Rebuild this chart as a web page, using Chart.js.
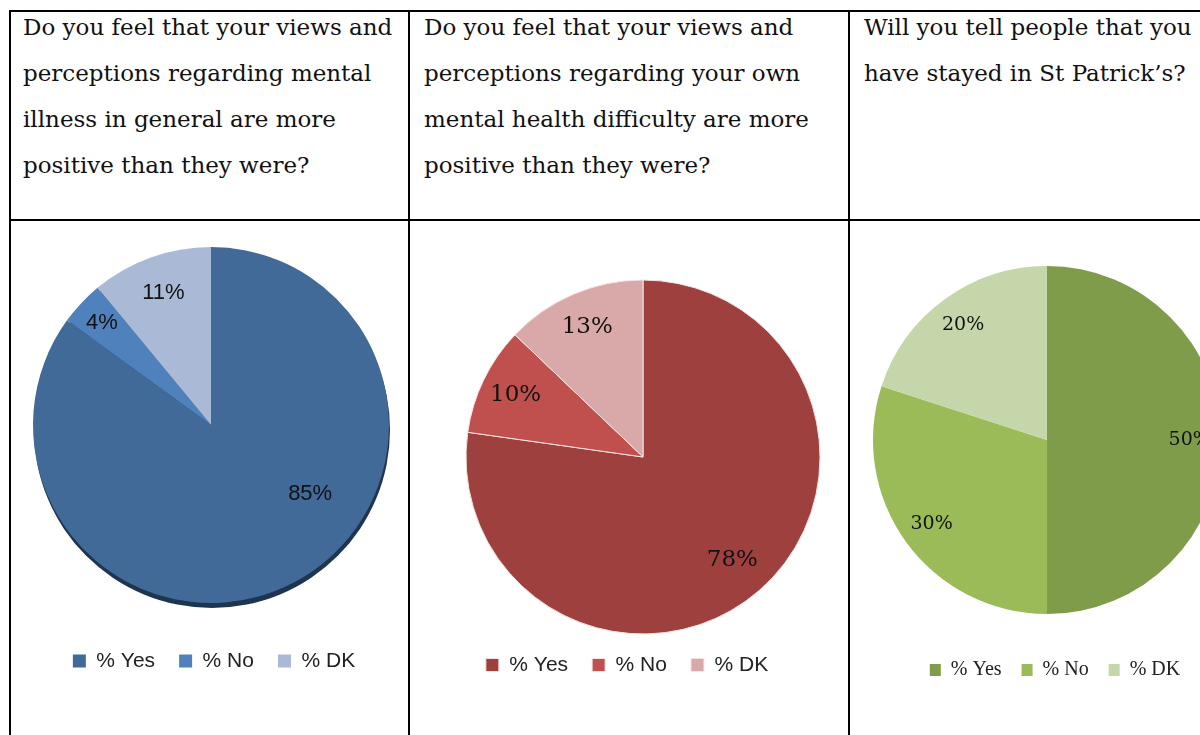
<!DOCTYPE html>
<html>
<head>
<meta charset="utf-8">
<script src="https://cdn.jsdelivr.net/npm/chart.js@4.4.0/dist/chart.umd.min.js"></script>
<style>
  html, body { margin: 0; padding: 0; width: 1200px; height: 735px; overflow: hidden; background: #fff; }
  .line { position: absolute; background: #000; }
  .head { position: absolute; top: 4px; font-family: 'DejaVu Serif', serif; font-size: 23px; line-height: 46px; color: #111; white-space: nowrap; }
  canvas { position: absolute; }
</style>
</head>
<body>
<div class="line" style="left:9px; top:10px; width:1200px; height:2px"></div>
<div class="line" style="left:9px; top:219px; width:1200px; height:2px"></div>
<div class="line" style="left:9px; top:10px; width:2px; height:740px"></div>
<div class="line" style="left:408px; top:10px; width:2px; height:740px"></div>
<div class="line" style="left:848px; top:10px; width:2px; height:740px"></div>

<div class="head" id="q1" style="left:23px"></div>
<div class="head" id="q2" style="left:424px"></div>
<div class="head" id="q3" style="left:864px"></div>

<canvas id="c1"></canvas>
<canvas id="c2"></canvas>
<canvas id="c3"></canvas>

<script>
// Survey answers (percent)
const answers = ["% Yes", "% No", "% DK"];
const viewsGeneral = [85, 4, 11];
const viewsOwn = [78, 10, 13];
const tellPeople = [50, 30, 20];

// Column headings, one entry per printed line
const q1Lines = ["Do you feel that your views and", "perceptions regarding mental", "illness in general are more", "positive than they were?"];
const q2Lines = ["Do you feel that your views and", "perceptions regarding your own", "mental health difficulty are more", "positive than they were?"];
const q3Lines = ["Will you tell people that you", "have stayed in St Patrick\u2019s?"];

document.getElementById("q1").innerHTML = q1Lines.join("<br>");
document.getElementById("q2").innerHTML = q2Lines.join("<br>");
document.getElementById("q3").innerHTML = q3Lines.join("<br>");

const CANVAS_TOP = 222;
const CANVAS_H = 513;

const charts = [
  {
    id: "c1", values: viewsGeneral, colors: ["#416A98", "#4F81BD", "#A9B9D6"],
    left: 0, width: 410, cx: 211, cy: 425, r: 178,
    legendX: 214, legendY: 661, legendFont: "Liberation Sans", legendSize: 21, box: [13, 13], pad: 24,
    labelFont: "Liberation Sans", labelSize: 22, labelDist: [0.68, 0.84, 0.79], labelShift: [-28, 0, 0],
    shadow: "#1E3550", border: 0
  },
  {
    id: "c2", values: viewsOwn, colors: ["#9E403E", "#C0504D", "#D8A9A8"],
    left: 411, width: 438, cx: 643, cy: 457, r: 177,
    legendX: 627, legendY: 665, legendFont: "Liberation Sans", legendSize: 21, box: [13, 13], pad: 24,
    labelFont: "DejaVu Serif", labelSize: 23, labelDist: [0.77, 0.8, 0.8], labelShift: [0, 0, 0],
    shadow: null, border: 1
  },
  {
    id: "c3", values: tellPeople, colors: ["#7F9C4A", "#9BBB59", "#C5D6AB"],
    left: 851, width: 449, cx: 1047, cy: 440, r: 174,
    legendX: 1055, legendY: 670, legendFont: "Liberation Serif", legendSize: 20, box: [11, 12], pad: 20,
    labelFont: "DejaVu Serif", labelSize: 19, labelDist: [0.82, 0.82, 0.82], labelShift: [0, 0, 0],
    shadow: null, border: 0
  }
];

charts.forEach(s => {
  const canvas = document.getElementById(s.id);
  canvas.width = s.width;
  canvas.height = CANVAS_H;
  canvas.style.left = s.left + "px";
  canvas.style.top = CANVAS_TOP + "px";

  // legend placement through layout padding
  const lx = s.legendX - s.left;
  const padL = lx * 2 > s.width ? lx * 2 - s.width : 0;
  const padR = lx * 2 < s.width ? s.width - lx * 2 : 0;
  const padB = CANVAS_H - 10 - s.legendSize / 2 - (s.legendY - CANVAS_TOP);

  // pie position inside the canvas
  const px = s.cx - s.left, py = s.cy - CANVAS_TOP;

  const placePie = {
    id: "placePie",
    afterLayout(chart) {
      const a = chart.chartArea;
      a.left = px - s.r; a.right = px + s.r;
      a.top = py - s.r; a.bottom = py + s.r;
      a.width = 2 * s.r; a.height = 2 * s.r;
    }
  };

  const pieShadow = {
    id: "pieShadow",
    beforeDatasetsDraw(chart) {
      if (!s.shadow) return;
      const arc = chart.getDatasetMeta(0).data[0];
      const ctx = chart.ctx;
      ctx.save();
      ctx.fillStyle = s.shadow;
      ctx.beginPath();
      ctx.arc(arc.x + 1, arc.y + 5, arc.outerRadius, 0, Math.PI * 2);
      ctx.fill();
      ctx.restore();
    }
  };

  const sliceLabels = {
    id: "sliceLabels",
    afterDatasetsDraw(chart) {
      const ctx = chart.ctx;
      const values = chart.data.datasets[0].data;
      ctx.save();
      ctx.font = s.labelSize + "px '" + s.labelFont + "'";
      ctx.fillStyle = "#111";
      ctx.textAlign = "center";
      ctx.textBaseline = "middle";
      chart.getDatasetMeta(0).data.forEach((arc, i) => {
        const p = arc.getProps(["x", "y", "startAngle", "endAngle", "outerRadius"], true);
        const mid = (p.startAngle + p.endAngle) / 2 + s.labelShift[i] * Math.PI / 180;
        const d = p.outerRadius * s.labelDist[i];
        ctx.fillText(values[i] + "%", p.x + Math.cos(mid) * d, p.y + Math.sin(mid) * d);
      });
      ctx.restore();
    }
  };

  new Chart(canvas.getContext("2d"), {
    type: "pie",
    data: {
      labels: answers,
      datasets: [{
        data: s.values,
        backgroundColor: s.colors,
        borderColor: "#f4e4e4",
        borderWidth: s.border
      }]
    },
    options: {
      responsive: false,
      animation: false,
      radius: s.r,
      layout: { padding: { left: padL, right: padR, top: 0, bottom: padB } },
      plugins: {
        tooltip: { enabled: false },
        legend: {
          position: "bottom",
          labels: {
            boxWidth: s.box[0],
            boxHeight: s.box[1],
            padding: s.pad,
            color: "#222",
            font: { family: s.legendFont, size: s.legendSize }
          }
        }
      }
    },
    plugins: [placePie, pieShadow, sliceLabels]
  });
});
</script>
</body>
</html>
